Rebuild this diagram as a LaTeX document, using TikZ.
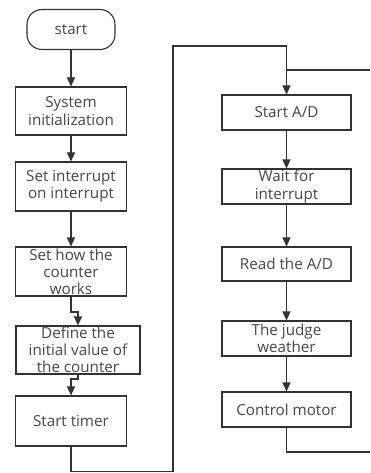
\documentclass[tikz,border=0pt]{standalone}
\usepackage{fontspec}
\setmainfont{Open Sans}
\usetikzlibrary{arrows.meta}
\definecolor{ink}{HTML}{333333}
\definecolor{txtc}{HTML}{474747}
\begin{document}
\begin{tikzpicture}[x=1pt,y=-1pt,
  font=\fontsize{15.2}{17.2}\selectfont,
  box/.style={draw=ink,line width=1.1pt,rectangle,inner sep=0pt,align=center,text=txtc},
  term/.style={box,rounded corners=15pt},
  label/.style={inner sep=0pt,align=center,text=txtc},
  flow/.style={draw=ink,line width=1.1pt,-{Triangle[length=9pt,width=8pt]}},
  wire/.style={draw=ink,line width=1.1pt}]
\useasboundingbox (0,0) rectangle (370,473);

% left column: initialisation
\node[term,minimum width=88,minimum height=40] (start) at (71,29.5) {start};
\node[box,minimum width=111,minimum height=48] (sys) at (71,111) {System\\initialization};
\node[box,minimum width=111,minimum height=49] (irq) at (71,186.5) {Set interrupt\\on interrupt};
\node[box,minimum width=111,minimum height=49] (cnt) at (71,271.5) {};
\node[label] (cntt) at (cnt) {Set how the\\counter\\works};
\node[box,minimum width=124,minimum height=48] (ini) at (78,350) {};
\node[label] (init) at (ini) {Define the\\initial value of\\the counter};
\node[box,minimum width=111,minimum height=50] (tmr) at (71,421) {Start timer};

% right column: measuring loop
\node[box,minimum width=129,minimum height=35] (ad) at (286.5,112.5) {Start A/D};
\node[box,minimum width=129,minimum height=35] (wait) at (286.5,186.5) {Wait for\\interrupt};
\node[box,minimum width=129,minimum height=34] (read) at (286.5,264) {Read the A/D};
\node[box,minimum width=129,minimum height=35] (judge) at (286.5,338.5) {The judge\\weather};
\node[box,minimum width=129,minimum height=35] (motor) at (286.5,409.5) {Control motor};

% routing points
\coordinate (j1) at (71,312);
\coordinate (j2) at (78,312);
\coordinate (j3) at (78,379);
\coordinate (j4) at (71,379);
\coordinate (b1) at (71,471.5);
\coordinate (b2) at (173,471.5);
\coordinate (t1) at (173,46);
\coordinate (t2) at (286.5,46);
\coordinate (rin) at (370,70);
\coordinate (m1) at (286.5,452);
\coordinate (rout) at (370,452);

% connectors
\draw[flow] (start) -- (sys);
\draw[flow] (sys) -- (irq);
\draw[flow] (irq) -- (cnt);
\draw[flow] (cnt.south) -- (j1) -- (j2) -- (ini.north);
\draw[flow] (ini.south) -- (j3) -- (j4) -- (tmr.north);
\draw[flow] (tmr.south) -- (b1) -- (b2) -- (t1) -- (t2) -- (ad.north);
\draw[wire] (rin) -- (rin -| ad.north);
\draw[flow] (ad) -- (wait);
\draw[flow] (wait) -- (read);
\draw[flow] (read) -- (judge);
\draw[flow] (judge) -- (motor);
\draw[wire] (motor.south) -- (m1) -- (rout);
\end{tikzpicture}
\end{document}
